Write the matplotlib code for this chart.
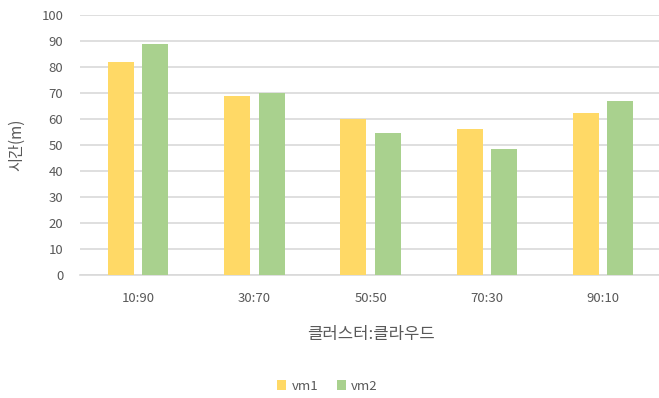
import matplotlib

matplotlib.use("Agg")
import matplotlib.pyplot as plt
import numpy as np

plt.rcParams["font.family"] = ["Noto Sans CJK KR", "DejaVu Sans"]

categories = ["10:90", "30:70", "50:50", "70:30", "90:10"]
vm1 = [82, 69, 60, 56, 62.5]
vm2 = [89, 70, 54.5, 48.5, 67]
yticks = list(range(0, 101, 10))

_INK = "#595959"
yellow = "#FFD966"
green = "#A9D18E"

fig = plt.figure(figsize=(6.59, 3.98), dpi=100)
ax = fig.add_axes([0.1214, 0.309, 0.882, 0.653])

x = np.arange(len(categories))
w = 0.225
off = 0.148
ax.bar(x - off, vm1, w, color=yellow, label="vm1", zorder=3)
ax.bar(x + off, vm2, w, color=green, label="vm2", zorder=3)

ax.set_xlim(-0.5, len(categories) - 0.5)
ax.set_ylim(0, 100)
ax.set_yticks(yticks)
ax.set_xticks(x)
ax.set_xticklabels(categories)
ax.yaxis.grid(True, color="#D9D9D9", linewidth=1.2, zorder=0)
ax.tick_params(axis="both", length=0, labelsize=9.5, colors=_INK)
ax.tick_params(axis="x", pad=12)
ax.tick_params(axis="y", pad=12)
for s in ["top", "right", "left"]:
    ax.spines[s].set_visible(False)
ax.spines["bottom"].set_color("#D9D9D9")
ax.spines["bottom"].set_linewidth(1.2)

ax.set_xlabel("클러스터:클라우드", fontsize=12, color=_INK, labelpad=15)
ax.set_ylabel("시간(m)", fontsize=11, color=_INK, labelpad=12)

fig.legend(loc="center", bbox_to_anchor=(0.497, 0.03), ncol=2, frameon=False,
           fontsize=9.5, handlelength=0.7, handleheight=0.7, handletextpad=0.4,
           columnspacing=1.4, labelcolor=_INK)

fig.savefig("out.png", dpi=100)
